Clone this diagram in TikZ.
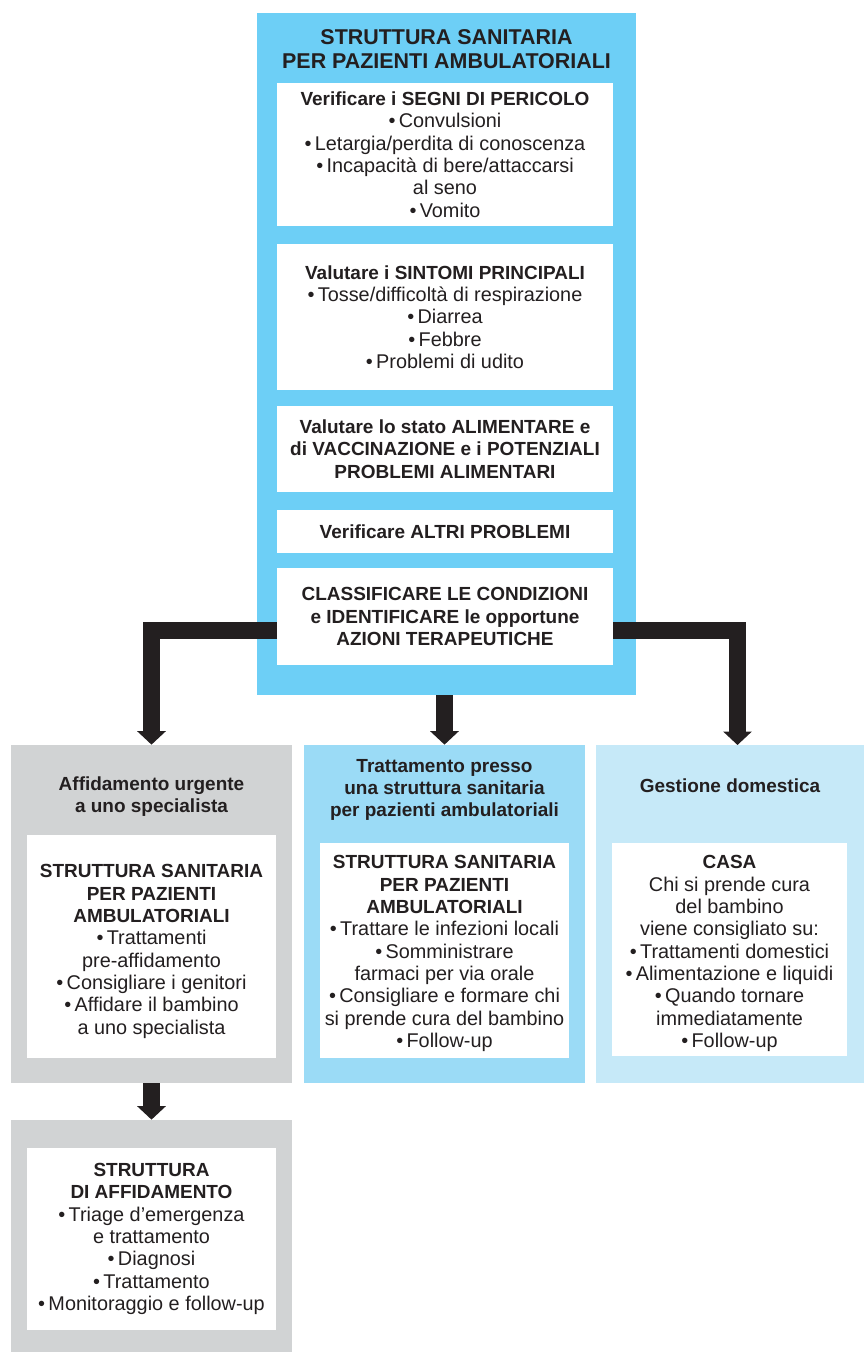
\documentclass[tikz,border=0pt]{standalone}
\usepackage{fontspec}
\setmainfont{Liberation Sans}
\usetikzlibrary{arrows.meta,fit,positioning}

\definecolor{ambublue}{HTML}{6DCFF6}
\definecolor{curablue}{HTML}{9BDBF6}
\definecolor{casablue}{HTML}{C6E9F8}
\definecolor{urgegray}{HTML}{D1D3D4}
\definecolor{arrowink}{HTML}{231F20}

\newcommand{\bul}{\textbullet\,}
\newcommand{\hd}[1]{{\bfseries\fontsize{10.8}{12.7}\selectfont #1}}

\begin{document}
\begin{tikzpicture}[x=0.02cm,y=-0.02cm,
    panel/.style={rectangle,inner sep=0pt,draw=none},
    heading/.style={align=center,inner sep=0pt,text=arrowink,font=\bfseries\fontsize{10.8}{12.5}\selectfont},
    bodytext/.style={align=center,inner sep=0pt,text=arrowink,font=\fontsize{11.3}{12.7}\selectfont},
    flow/.style={draw=arrowink,line width=0.34cm,line join=miter,-{Triangle[width=0.56cm,length=0.27cm]}}]

      \useasboundingbox (0,0) rectangle (864,1352);

      \node[panel,fill=ambublue,fit={(257,13) (636,695)}] (amb) {};
      \node[panel,fill=urgegray,fit={(11,745) (292,1083)}] (urge) {};
      \node[panel,fill=curablue,fit={(304,745) (585,1083)}] (cura) {};
      \node[panel,fill=casablue,fit={(596,745) (864,1083)}] (casa) {};
      \node[panel,fill=urgegray,fit={(11,1120) (292,1352)}] (refer) {};

      \node[heading,font=\bfseries\fontsize{12.2}{13.6}\selectfont] (ambtitle) at (446.5,49)
        {STRUTTURA SANITARIA\\PER PAZIENTI AMBULATORIALI};
      \node[heading] (urgetitle) at (151.5,797) {Affidamento urgente\\a uno specialista};
      \node[heading] (curatitle) at (444.5,790) {Trattamento presso\\una struttura sanitaria\\per pazienti ambulatoriali};
      \node[heading] (casatitle) at (730,786) {Gestione domestica};

      \begin{scope}[every node/.style={panel,fill=white}]
        \node[fit={(277,83) (613,226)}] (segni) {};
        \node[fit={(277,244) (613,390)}] (sintomi) {};
        \node[fit={(277,406) (613,492)}] (alim) {};
        \node[fit={(277,510) (613,553)}] (altri) {};
        \node[fit={(277,568) (613,665)}] (classi) {};
        \node[fit={(27,835) (276,1058)}] (urgein) {};
        \node[fit={(320,843) (569,1058)}] (curain) {};
        \node[fit={(612,843) (847,1056)}] (casain) {};
        \node[fit={(27,1148) (276,1330)}] (referin) {};
      \end{scope}

      \begin{scope}[every node/.style={bodytext}]
        \node (segnitext) at (segni)
          {\hd{Verificare i SEGNI DI PERICOLO}\\\bul Convulsioni\\\bul Letargia/perdita di conoscenza\\
           \bul Incapacità di bere/attaccarsi\\al seno\\\bul Vomito};
        \node (sintomitext) at (sintomi)
          {\hd{Valutare i SINTOMI PRINCIPALI}\\\bul Tosse/difficoltà di respirazione\\\bul Diarrea\\
           \bul Febbre\\\bul Problemi di udito};
        \node (alimtext) at (alim)
          {\hd{Valutare lo stato ALIMENTARE e}\\\hd{di VACCINAZIONE e i POTENZIALI}\\\hd{PROBLEMI ALIMENTARI}};
        \node (altritext) at (altri) {\hd{Verificare ALTRI PROBLEMI}};
        \node (classitext) at (classi)
          {\hd{CLASSIFICARE LE CONDIZIONI}\\\hd{e IDENTIFICARE le opportune}\\\hd{AZIONI TERAPEUTICHE}};
        \node (urgetext) at ([yshift=-0.1cm]urgein.center)
          {\hd{STRUTTURA SANITARIA}\\\hd{PER PAZIENTI}\\\hd{AMBULATORIALI}\\\bul Trattamenti\\
           pre-affidamento\\\bul Consigliare i genitori\\\bul Affidare il bambino\\a uno specialista};
        \node (curatext) at ([yshift=-0.06cm]curain.center)
          {\hd{STRUTTURA SANITARIA}\\\hd{PER PAZIENTI}\\\hd{AMBULATORIALI}\\\bul Trattare le infezioni locali\\
           \bul Somministrare\\farmaci per via orale\\\bul Consigliare e formare chi\\si prende cura del bambino\\\bul Follow-up};
        \node (casatext) at ([yshift=-0.08cm]casain.center)
          {\hd{CASA}\\Chi si prende cura\\del bambino\\viene consigliato su:\\\bul Trattamenti domestici\\
           \bul Alimentazione e liquidi\\\bul Quando tornare\\immediatamente\\\bul Follow-up};
        \node (refertext) at (referin)
          {\hd{STRUTTURA}\\\hd{DI AFFIDAMENTO}\\\bul Triage d’emergenza\\e trattamento\\\bul Diagnosi\\
           \bul Trattamento\\\bul Monitoraggio e follow-up};
      \end{scope}

      \coordinate (splitL) at (277,630);
      \coordinate (splitR) at (613,630);
      \coordinate (casatop) at (737.5,745);

      \draw[flow] (splitL) -| (urge.north);
      \draw[flow] (splitR) -| (casatop);
      \draw[flow] (cura.north |- amb.south) -- (cura.north);
      \draw[flow] (urge.south) -- (refer.north);

    \end{tikzpicture}
\end{document}
